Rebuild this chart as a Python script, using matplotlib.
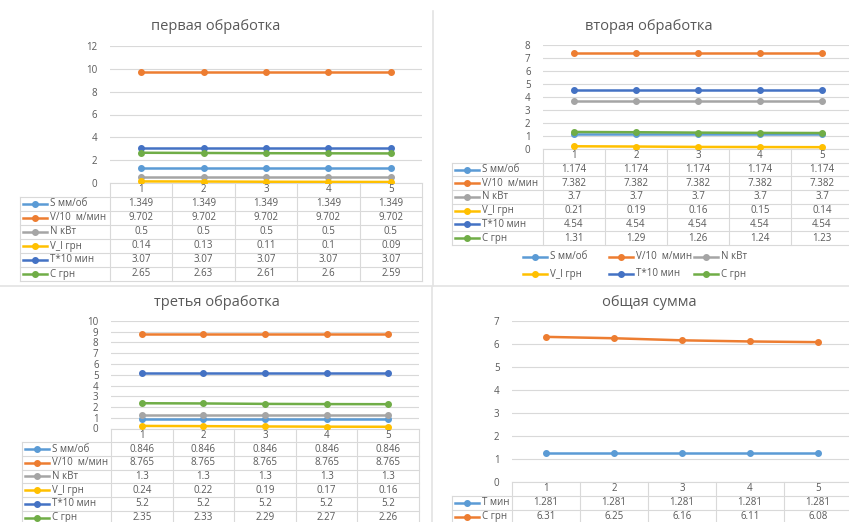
import matplotlib.pyplot as plt
from matplotlib import transforms

plt.rcParams['font.family'] = ['Open Sans', 'DejaVu Sans']

# категории (номер прохода)
cats = [1, 2, 3, 4, 5]

names6 = ['S мм/об', 'V/10  м/мин', 'N кВт', 'V_I грн', 'T*10 мин', 'C грн']
colors6 = ['#5B9BD5', '#ED7D31', '#A5A5A5', '#FFC000', '#4472C4', '#70AD47']

# первая обработка
p1_S = [1.349, 1.349, 1.349, 1.349, 1.349]
p1_V = [9.702, 9.702, 9.702, 9.702, 9.702]
p1_N = [0.5, 0.5, 0.5, 0.5, 0.5]
p1_VI = [0.14, 0.13, 0.11, 0.1, 0.09]
p1_T = [3.07, 3.07, 3.07, 3.07, 3.07]
p1_C = [2.65, 2.63, 2.61, 2.6, 2.59]

# вторая обработка
p2_S = [1.174, 1.174, 1.174, 1.174, 1.174]
p2_V = [7.382, 7.382, 7.382, 7.382, 7.382]
p2_N = [3.7, 3.7, 3.7, 3.7, 3.7]
p2_VI = [0.21, 0.19, 0.16, 0.15, 0.14]
p2_T = [4.54, 4.54, 4.54, 4.54, 4.54]
p2_C = [1.31, 1.29, 1.26, 1.24, 1.23]

# третья обработка
p3_S = [0.846, 0.846, 0.846, 0.846, 0.846]
p3_V = [8.765, 8.765, 8.765, 8.765, 8.765]
p3_N = [1.3, 1.3, 1.3, 1.3, 1.3]
p3_VI = [0.24, 0.22, 0.19, 0.17, 0.16]
p3_T = [5.2, 5.2, 5.2, 5.2, 5.2]
p3_C = [2.35, 2.33, 2.29, 2.27, 2.26]

# общая сумма
names2 = ['T мин', 'C грн']
colors2 = ['#5B9BD5', '#ED7D31']
sum_T = [1.281, 1.281, 1.281, 1.281, 1.281]
sum_C = [6.31, 6.25, 6.16, 6.11, 6.08]

W, H = 849, 522
TXT = '#595959'
GRID = '#D9D9D9'
fig = plt.figure(figsize=(W / 100, H / 100), dpi=100)


def fx(px):
    return px / W


def fy(py):
    return 1 - py / H


def key(x, y, color, name):
    # короткая линия с маркером + подпись (как в легенде Excel)
    fig.add_artist(plt.Line2D([fx(x), fx(x + 24)], [fy(y), fy(y)], color=color,
                              lw=1.8, transform=fig.transFigure))
    fig.add_artist(plt.Line2D([fx(x + 12)], [fy(y)], color=color, marker='o',
                              ms=4, transform=fig.transFigure))
    fig.text(fx(x + 27), fy(y), name, color=TXT, fontsize=7, va='center', ha='left')


def panel(box, title, title_xy, names, series, colors, ymax, ystep, label_left, row_h):
    x0, y_top, x1, y_bot = box
    ax = fig.add_axes([fx(x0), fy(y_bot), fx(x1) - fx(x0), fy(y_top) - fy(y_bot)])
    for vals, c in zip(series, colors):
        ax.plot(cats, vals, color=c, lw=1.8, marker='o', ms=4, zorder=3)
    ax.set_xlim(0.5, 5.5)
    ax.set_ylim(0, ymax)
    ax.set_yticks(range(0, ymax + 1, ystep))
    ax.set_xticks([])
    ax.grid(axis='y', color=GRID, lw=0.8)
    ax.set_axisbelow(True)
    for s in ax.spines.values():
        s.set_visible(False)
    ax.tick_params(axis='y', length=0, pad=9, labelsize=7, labelcolor=TXT)
    fig.text(fx(title_xy[0]), fy(title_xy[1]), title, color=TXT, fontsize=10.5,
             ha='center', va='center')

    # таблица данных под графиком
    tr = transforms.blended_transform_factory(ax.transData, fig.transFigure)
    n = len(series)
    y_end = y_bot + (n + 1) * row_h
    ax.plot([0.5, 5.5], [fy(y_bot)] * 2, color=GRID, lw=0.8, transform=tr, clip_on=False)
    for i in range(1, n + 2):
        yy = fy(y_bot + i * row_h)
        fig.add_artist(plt.Line2D([fx(label_left), fx(x1)], [yy, yy], color=GRID,
                                  lw=0.8, transform=fig.transFigure))
    for b in [0.5, 1.5, 2.5, 3.5, 4.5, 5.5]:
        ax.plot([b, b], [fy(y_bot), fy(y_end)], color=GRID, lw=0.8, transform=tr,
                clip_on=False)
    fig.add_artist(plt.Line2D([fx(label_left)] * 2, [fy(y_bot + row_h), fy(y_end)],
                              color=GRID, lw=0.8, transform=fig.transFigure))
    for c in cats:
        ax.text(c, fy(y_bot + row_h / 2), str(c), transform=tr, ha='center',
                va='center', fontsize=7, color=TXT)
    for i, (vals, name, col) in enumerate(zip(series, names, colors)):
        yc = y_bot + (i + 1.5) * row_h
        key(label_left + 3, yc, col, name)
        for c, v in zip(cats, vals):
            ax.text(c, fy(yc), str(v), transform=tr, ha='center', va='center',
                    fontsize=7, color=TXT)
    return ax


panel((110, 46, 422, 183), 'первая обработка', (216, 27), names6,
      [p1_S, p1_V, p1_N, p1_VI, p1_T, p1_C], colors6, 12, 2, 20, 14)
panel((543, 45, 853, 149), 'вторая обработка', (649, 26), names6,
      [p2_S, p2_V, p2_N, p2_VI, p2_T, p2_C], colors6, 8, 1, 452, 13.7)
panel((111, 321, 419, 428.5), 'третья обработка', (217, 302), names6,
      [p3_S, p3_V, p3_N, p3_VI, p3_T, p3_C], colors6, 10, 1, 22, 13.7)
panel((512, 321, 852, 482), 'общая сумма', (649, 302), names2,
      [sum_T, sum_C], colors2, 7, 1, 452, 13.8)

# легенда второго графика
leg_x = [523, 609, 694]
for k, (name, col) in enumerate(zip(names6, colors6)):
    key(leg_x[k % 3], 257 if k < 3 else 274, col, name)

# рамки между графиками
SEP = '#E3E3E3'
fig.add_artist(plt.Line2D([0, 1], [fy(285.5)] * 2, color=SEP, lw=1.2,
                          transform=fig.transFigure))
fig.add_artist(plt.Line2D([fx(433)] * 2, [fy(11), fy(285.5)], color=SEP, lw=1.2,
                          transform=fig.transFigure))
fig.add_artist(plt.Line2D([fx(432)] * 2, [fy(287), 0], color=SEP, lw=1.2,
                          transform=fig.transFigure))

fig.savefig('out.png', dpi=100)
